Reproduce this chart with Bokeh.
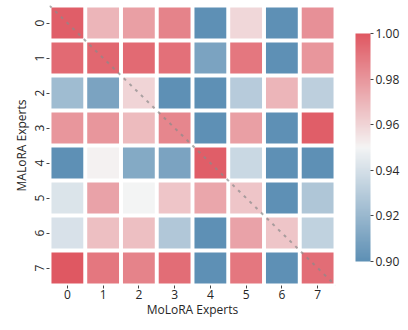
import math
import numpy as np
from bokeh.plotting import figure
from bokeh.models import (LinearColorMapper, ColorBar, FixedTicker, Range1d,
                          ColumnDataSource, PrintfTickFormatter)
from bokeh.embed import file_html
from bokeh.resources import INLINE

# ---------------- data ----------------
experts_x = [0, 1, 2, 3, 4, 5, 6, 7]          # MoLoRA experts (columns)
experts_y = [0, 1, 2, 3, 4, 5, 6, 7]          # MALoRA experts (rows)
row0 = [0.998, 0.970, 0.977, 0.986, 0.900, 0.959, 0.900, 0.982]
row1 = [0.994, 0.995, 0.994, 0.992, 0.910, 0.990, 0.900, 0.980]
row2 = [0.922, 0.910, 0.960, 0.900, 0.900, 0.930, 0.970, 0.932]
row3 = [0.980, 0.980, 0.968, 0.985, 0.900, 0.977, 0.900, 0.998]
row4 = [0.900, 0.951, 0.913, 0.910, 0.998, 0.936, 0.900, 0.900]
row5 = [0.942, 0.976, 0.950, 0.965, 0.975, 0.965, 0.900, 0.927]
row6 = [0.941, 0.967, 0.967, 0.928, 0.900, 0.976, 0.965, 0.933]
row7 = [1.000, 0.990, 0.986, 0.993, 0.900, 0.990, 0.900, 0.993]
rows = [row0, row1, row2, row3, row4, row5, row6, row7]
cbar_ticks = [0.90, 0.92, 0.94, 0.96, 0.98, 1.00]
vmin, vmax = 0.90, 1.00
x_title = "MoLoRA Experts"
y_title = "MALoRA Experts"

# ---------------- colormap (seaborn diverging_palette(240, 10)) ----------------
_m = [[3.2406, -1.5372, -0.4986], [-0.9689, 1.8758, 0.0415], [0.0557, -0.2040, 1.0570]]
_refU, _refV, _kappa, _eps = 0.19784, 0.46834, 903.2962962, 0.0088564516


def _max_chroma(L, H):
    hrad = math.radians(H)
    sinH, cosH = math.sin(hrad), math.cos(hrad)
    sub1 = (L + 16) ** 3 / 1560896.0
    sub2 = sub1 if sub1 > 0.008856 else L / 903.3
    result = float("inf")
    for m1, m2, m3 in _m:
        top = (0.99915 * m1 + 1.05122 * m2 + 1.14460 * m3) * sub2
        rbottom = 0.86330 * m3 - 0.17266 * m2
        lbottom = 0.12949 * m3 - 0.38848 * m1
        bottom = (rbottom * sinH + lbottom * cosH) * sub2
        for t in (0.0, 1.0):
            C = L * (top - 1.05122 * t) / (bottom + 0.17266 * sinH * t)
            if 0.0 < C < result:
                result = C
    return result


def _husl_to_rgb(H, S, L):
    C = _max_chroma(L, H) / 100.0 * S
    hrad = math.radians(H)
    U, V = math.cos(hrad) * C, math.sin(hrad) * C
    t = (L + 16) / 116.0
    Y = t ** 3 if t ** 3 > _eps else (116 * t - 16) / _kappa
    varU = U / (13 * L) + _refU
    varV = V / (13 * L) + _refV
    X = -(9 * Y * varU) / ((varU - 4) * varV - varU * varV)
    Z = (9 * Y - 15 * varV * Y - varV * X) / (3 * varV)
    out = []
    for r in _m:
        c = r[0] * X + r[1] * Y + r[2] * Z
        c = 12.92 * c if c <= 0.0031308 else 1.055 * c ** (1 / 2.4) - 0.055
        out.append(min(max(c, 0.0), 1.0))
    return np.array(out)


blue = _husl_to_rgb(240, 75, 50)
gray_b = _husl_to_rgb(240, 75 * 0.15, 95)
mid = np.array([0.95, 0.95, 0.95])
gray_r = _husl_to_rgb(10, 75 * 0.15, 95)
red = _husl_to_rgb(10, 75, 50)
anchors = np.vstack([np.linspace(0, 1, 128)[:, None] * (gray_b - blue) + blue,
                     mid[None, :],
                     np.linspace(0, 1, 128)[:, None] * (red - gray_r) + gray_r])
pos = np.linspace(0, 1, len(anchors))
samp = np.linspace(0, 1, 256)
ALPHA = 0.85
palette = []
for s in samp:
    rgb = [np.interp(s, pos, anchors[:, k]) for k in range(3)]
    rgb = [ALPHA * c + (1 - ALPHA) for c in rgb]
    palette.append("#%02x%02x%02x" % tuple(int(round(c * 255)) for c in rgb))

mapper = LinearColorMapper(palette=palette, low=vmin, high=vmax)

xs, ys, vs = [], [], []
for yi, r in zip(experts_y, rows):
    for xi, v in zip(experts_x, r):
        xs.append(xi)
        ys.append(yi)
        vs.append(v)
src = ColumnDataSource(dict(x=xs, y=ys, v=vs))

FONT = "Open Sans"
TXT = "#262626"

p = figure(width=400, height=322, output_backend="svg", toolbar_location=None,
           x_range=Range1d(-0.5, 7.5), y_range=Range1d(7.5, -0.5),
           min_border_left=49, min_border_right=65, min_border_top=5,
           min_border_bottom=37)
p.outline_line_color = None
p.grid.visible = False
p.background_fill_color = "white"
p.border_fill_color = "white"

p.rect(x="x", y="y", width=0.89, height=0.89, source=src,
       fill_color={"field": "v", "transform": mapper}, line_color=None)

p.line(x=[-0.5, 7.5], y=[-0.5, 7.5], line_color="#8a8a8a", line_alpha=0.7,
       line_width=2, line_dash="3 5")

for ax in (p.xaxis[0], p.yaxis[0]):
    ax.ticker = FixedTicker(ticks=experts_x)
    ax.axis_line_color = None
    ax.major_tick_in = 0
    ax.major_tick_out = 3
    ax.minor_tick_line_color = None
    ax.major_tick_line_color = "#444444"
    ax.major_label_text_font = FONT
    ax.major_label_text_font_size = "12px"
    ax.major_label_text_color = TXT
    ax.axis_label_text_font = FONT
    ax.axis_label_text_font_size = "12px"
    ax.axis_label_text_font_style = "normal"
    ax.axis_label_text_color = TXT

p.xaxis.axis_label = x_title
p.yaxis.axis_label = y_title
p.xaxis.major_label_standoff = 1
p.xaxis.axis_label_standoff = -1
p.yaxis.major_label_standoff = 3
p.yaxis.axis_label_standoff = 2
p.yaxis.major_label_orientation = "vertical"

cb = ColorBar(color_mapper=mapper, width=15, height=228, location=(306, 24),
              ticker=FixedTicker(ticks=cbar_ticks),
              formatter=PrintfTickFormatter(format="%.2f"),
              major_tick_in=0, major_tick_out=3, major_tick_line_color="#444444",
              minor_tick_line_color=None, bar_line_color=None,
              major_label_text_font=FONT, major_label_text_font_size="12px",
              major_label_text_color=TXT, label_standoff=2,
              padding=0, margin=0, background_fill_color=None,
              border_line_color=None)
p.add_layout(cb, "center")

open("out.html", "w").write(file_html(p, INLINE))
